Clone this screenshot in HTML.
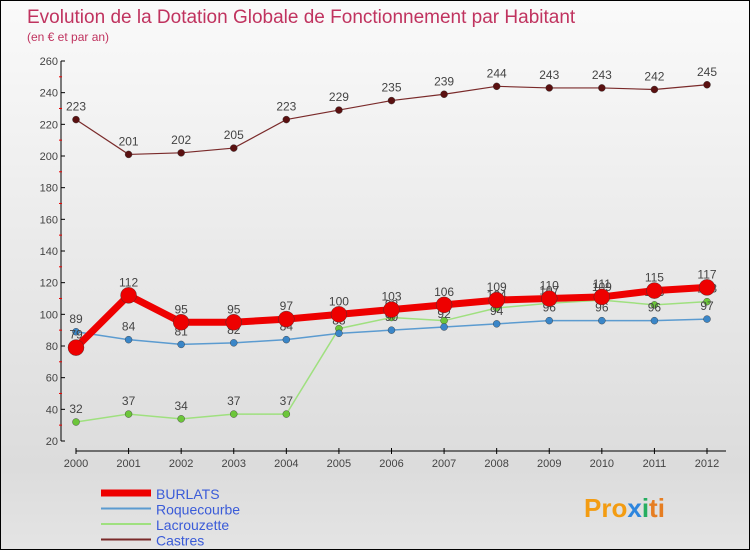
<!DOCTYPE html>
<html><head><meta charset="utf-8"><style>
body{margin:0}
#c{width:750px;height:550px;position:relative;box-sizing:border-box;border:1px solid #000;background:linear-gradient(#fafafa,#dcdcdc 85%,#e4e4e4);font-family:"Liberation Sans",sans-serif;overflow:hidden}
</style></head><body>
<div id="c">
<svg width="750" height="550" style="position:absolute;left:0;top:0">
<text x="26" y="22" fill="#c0335f" font-size="19">Evolution de la Dotation Globale de Fonctionnement par Habitant</text>
<text x="26" y="40" fill="#c0335f" font-size="12">(en € et par an)</text>
<g id="axes"></g><g id="series"></g><g id="legend"></g>
<text x="583" y="516" font-size="26" font-weight="bold" fill="#f39c12">Pro<tspan fill="#2e86de">x</tspan><tspan fill="#27ae60">i</tspan><tspan fill="#e67e22">ti</tspan></text>
</svg></div>
<script>
const years=[2000,2001,2002,2003,2004,2005,2006,2007,2008,2009,2010,2011,2012];
const yTicks=[20,40,60,80,100,120,140,160,180,200,220,240,260];
const burlats=[79,112,95,95,97,100,103,106,109,110,111,115,117];
const roquecourbe=[89,84,81,82,84,88,90,92,94,96,96,96,97];
const lacrouzette=[32,37,34,37,37,91,98,96,104,107,109,106,108];
const castres=[223,201,202,205,223,229,235,239,244,243,243,242,245];
const NS="http://www.w3.org/2000/svg";
const X=i=>75+i*(706-75)/(years.length-1);
const Y=v=>440-(v-20)*(380/240);
function mk(t,a,p){const e=document.createElementNS(NS,t);for(const k in a)e.setAttribute(k,a[k]);p.appendChild(e);return e;}
const ax=document.getElementById('axes');
let l=mk('line',{x1:60,y1:60,x2:60,y2:440,stroke:'#000'},ax);


l=mk('line',{x1:75,y1:450,x2:725,y2:450,stroke:'#000'},ax);


yTicks.forEach(v=>{mk('line',{x1:60,y1:Y(v),x2:64,y2:Y(v),stroke:'#000'},ax);
if(v>20)mk('line',{x1:58,y1:Y(v)+15.8,x2:61,y2:Y(v)+15.8,stroke:'#e00'},ax);
const t=mk('text',{x:57,y:Y(v)+4,'text-anchor':'end','font-size':11,fill:'#444'},ax);t.textContent=v;

});
years.forEach((y,i)=>{mk('line',{x1:X(i),y1:447,x2:X(i),y2:453,stroke:'#000'},ax);
const t=mk('text',{x:X(i),y:466,'text-anchor':'middle','font-size':11,fill:'#444'},ax);t.textContent=y;

});
const sg=document.getElementById('series');
const defs=[['castres',castres,'#7a2a2a','#5a1010',1.2,3.5],['lacrouzette',lacrouzette,'#9fe07f','#6cc63a',1.5,3.5],['roquecourbe',roquecourbe,'#5b9bd0','#3a86c8',1.5,3.5],['burlats',burlats,'#ee0000','#ee0000',7,8]];
defs.forEach(([n,d,c,fc,w,r])=>{
const p=mk('polyline',{points:d.map((v,i)=>X(i)+','+Y(v)).join(' '),fill:'none',stroke:c,'stroke-width':w},sg);


d.forEach((v,i)=>{const ci=mk('circle',{cx:X(i),cy:Y(v),r:r,fill:fc,stroke:'#333','stroke-width':0.4},sg);


const t=mk('text',{x:X(i),y:Y(v)-9,'text-anchor':'middle','font-size':12,fill:'#444'},sg);t.textContent=v;

});});
const lg=document.getElementById('legend');
[['BURLATS','#ee0000',7],['Roquecourbe','#5b9bd0',2],['Lacrouzette','#9fe07f',2],['Castres','#7a2a2a',2]].forEach(([n,c,w],i)=>{
const yy=492+i*15.5;
const s=mk('line',{x1:100,y1:yy,x2:150,y2:yy,stroke:c,'stroke-width':w},lg);


const t=mk('text',{x:155,y:yy+6,'font-size':14,fill:'#3a5bd8'},lg);t.textContent=n;

});
</script></body></html>
